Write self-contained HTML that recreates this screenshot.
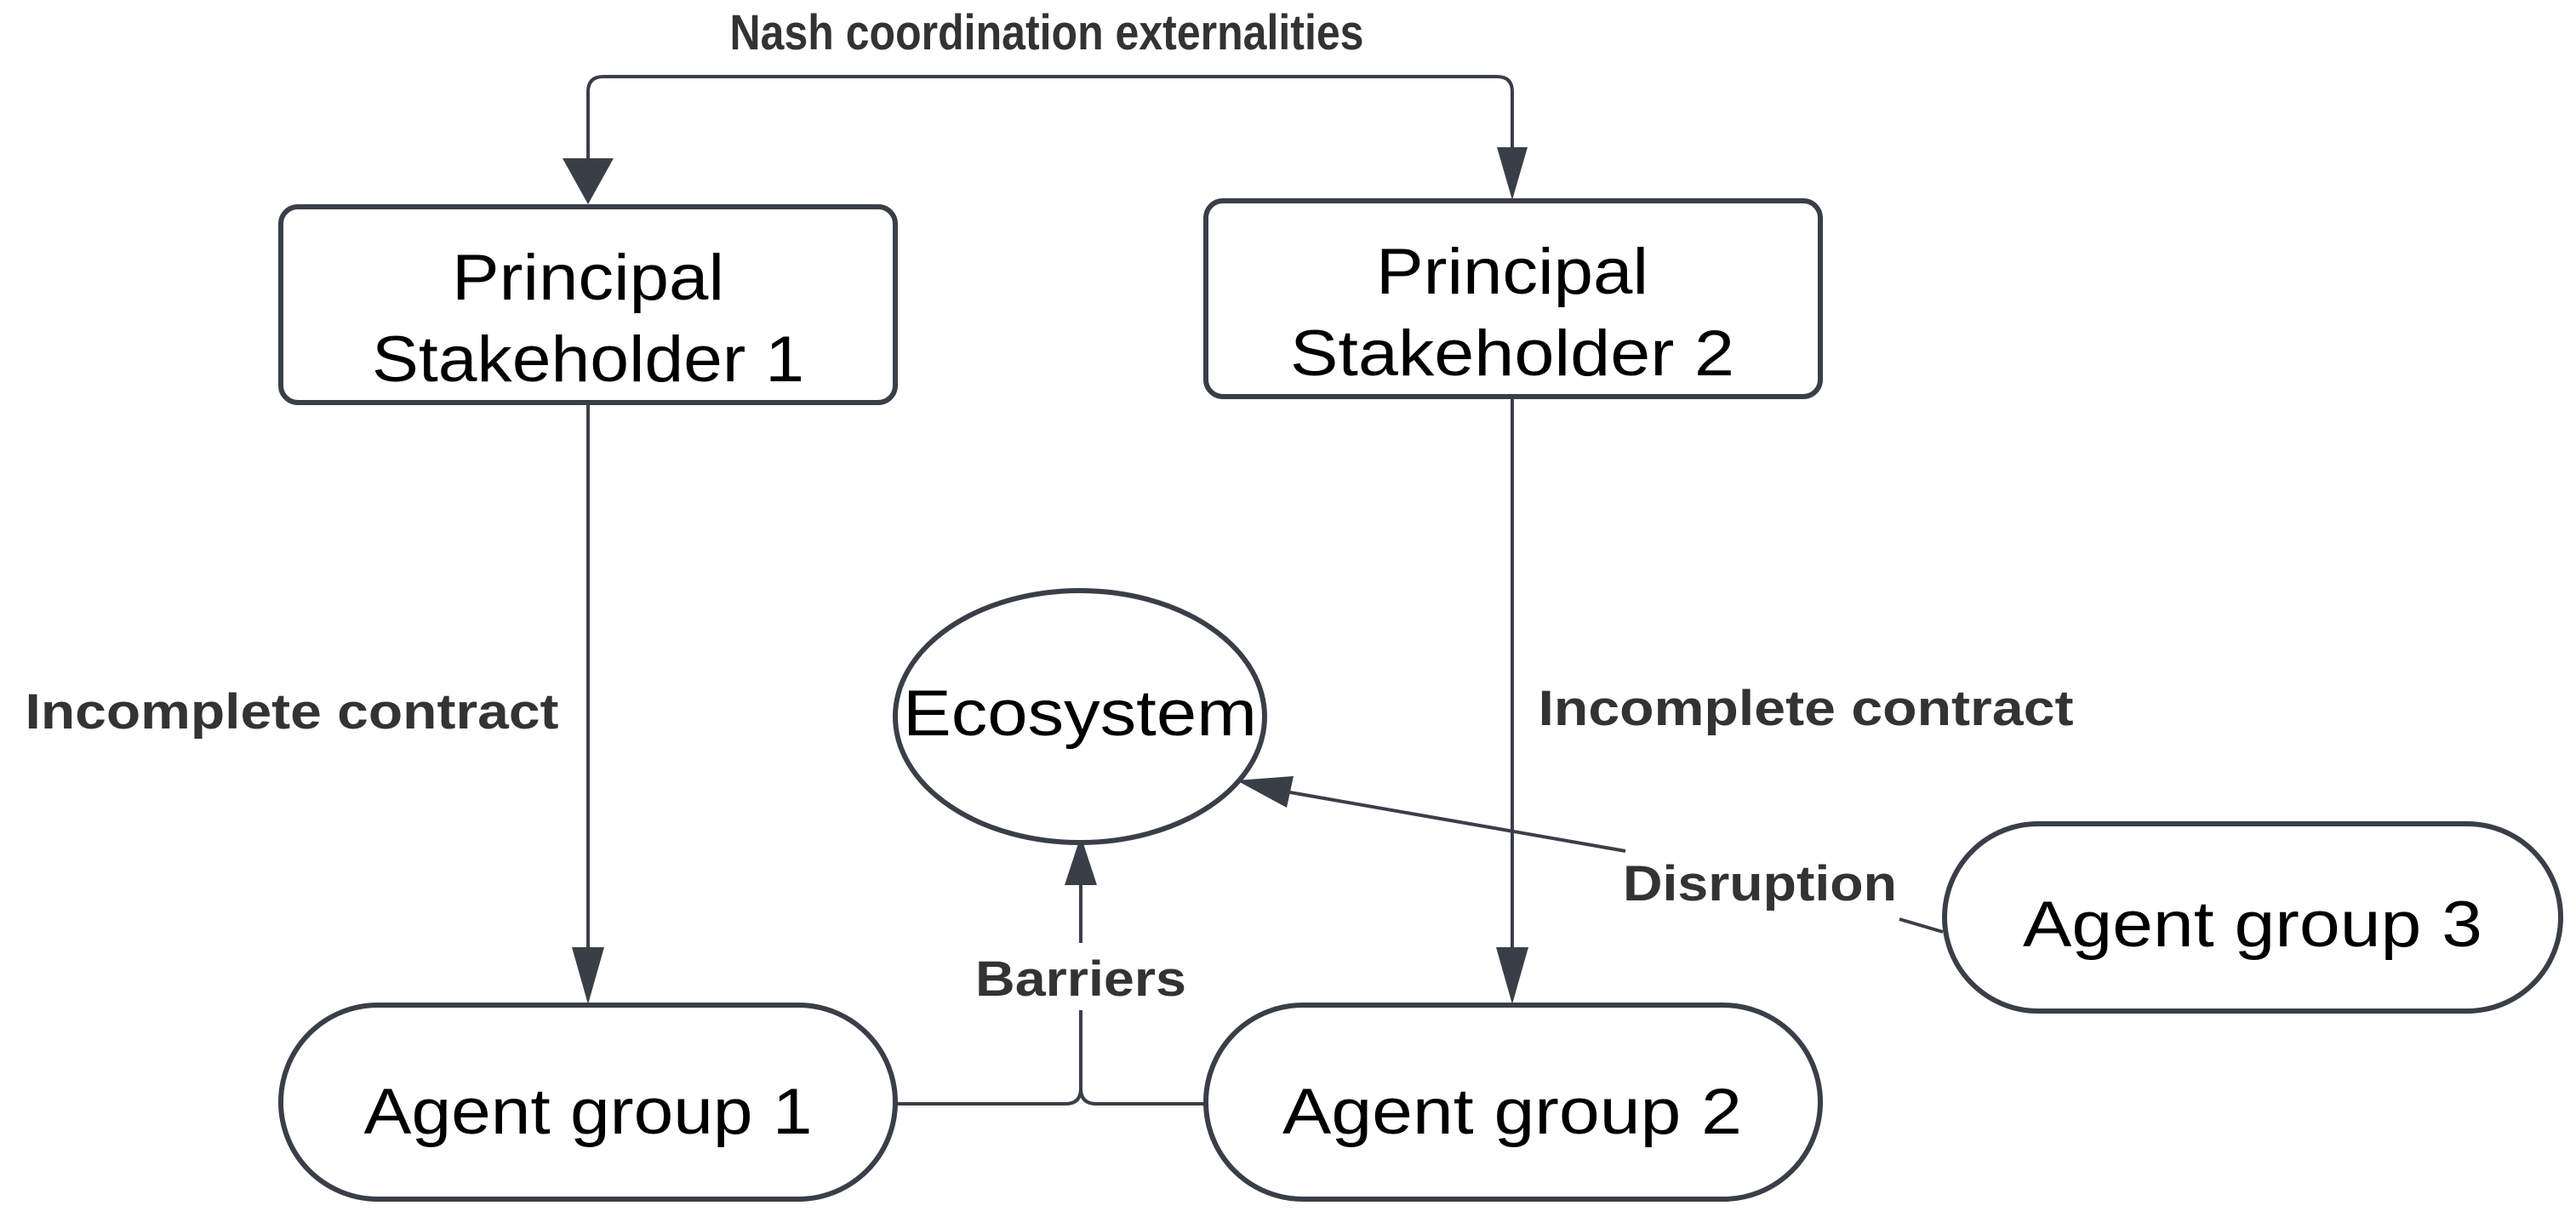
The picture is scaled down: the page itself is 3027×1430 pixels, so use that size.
<!DOCTYPE html>
<html><head><meta charset="utf-8"><style>
html,body{margin:0;padding:0;background:#fff;}
svg{display:block;}
.n{font-family:"Liberation Sans",sans-serif;font-size:76px;fill:#000;text-anchor:middle;}
.l{font-family:"Liberation Sans",sans-serif;font-weight:bold;font-size:58px;fill:#333;text-anchor:middle;}
</style></head><body>
<svg width="3027" height="1430" viewBox="0 0 3027 1430" xmlns="http://www.w3.org/2000/svg">
<g fill="none" stroke="#3a3f47" stroke-width="4">
<path d="M691 188 V108 Q691 90 709 90 H1759 Q1777 90 1777 108 V175"/>
<line x1="691" y1="475" x2="691" y2="1115"/>
<line x1="1777" y1="468" x2="1777" y2="1115"/>
<path d="M1052 1297 H1252 Q1270 1297 1270 1279 Q1270 1297 1288 1297 H1415"/>
<line x1="1270" y1="1279" x2="1270" y2="1187"/>
<line x1="1270" y1="1108" x2="1270" y2="1035"/>
<line x1="2283" y1="1095" x2="2232" y2="1080"/>
<line x1="1910" y1="1000" x2="1510" y2="930"/>
</g>
<g fill="#3a3f47">
<polygon points="661,186 721,186 691,240"/>
<polygon points="1759,173 1795,173 1777,235"/>
<polygon points="672,1113 710,1113 691,1180"/>
<polygon points="1758,1113 1796,1113 1777,1180"/>
<polygon points="1251,1040 1289,1040 1270,982"/>
<polygon points="1453,917 1520,912 1512,949"/>
</g>
<g fill="#fff" stroke="#3a3f47" stroke-width="6">
<rect x="330" y="243" width="722" height="230" rx="20"/>
<rect x="1417" y="236" width="722" height="230" rx="20"/>
<rect x="330" y="1181" width="722" height="228" rx="114"/>
<rect x="1417" y="1181" width="722" height="228" rx="114"/>
<rect x="2285" y="968" width="724" height="220" rx="110"/>
<ellipse cx="1269" cy="842" rx="217" ry="148"/>
</g>
<text class="l" x="1230" y="58" textLength="745" lengthAdjust="spacingAndGlyphs">Nash coordination  externalities</text>
<text class="l" x="343" y="856" textLength="627" lengthAdjust="spacingAndGlyphs">Incomplete contract</text>
<text class="l" x="2122" y="852" textLength="629" lengthAdjust="spacingAndGlyphs">Incomplete contract</text>
<text class="l" x="1270" y="1170" textLength="248" lengthAdjust="spacingAndGlyphs">Barriers</text>
<text class="l" x="2068" y="1058" textLength="322" lengthAdjust="spacingAndGlyphs">Disruption</text>
<text class="n" x="691" y="352" textLength="320" lengthAdjust="spacingAndGlyphs">Principal</text>
<text class="n" x="691" y="448" textLength="508" lengthAdjust="spacingAndGlyphs">Stakeholder 1</text>
<text class="n" x="1777" y="345" textLength="320" lengthAdjust="spacingAndGlyphs">Principal</text>
<text class="n" x="1777" y="441" textLength="522" lengthAdjust="spacingAndGlyphs">Stakeholder 2</text>
<text class="n" x="691" y="1332" textLength="527" lengthAdjust="spacingAndGlyphs">Agent group 1</text>
<text class="n" x="1777" y="1332" textLength="540" lengthAdjust="spacingAndGlyphs">Agent group 2</text>
<text class="n" x="2647" y="1112" textLength="540" lengthAdjust="spacingAndGlyphs">Agent group 3</text>
<text class="n" x="1269" y="864" font-size="80" textLength="416" lengthAdjust="spacingAndGlyphs">Ecosystem</text>
</svg>
</body></html>
